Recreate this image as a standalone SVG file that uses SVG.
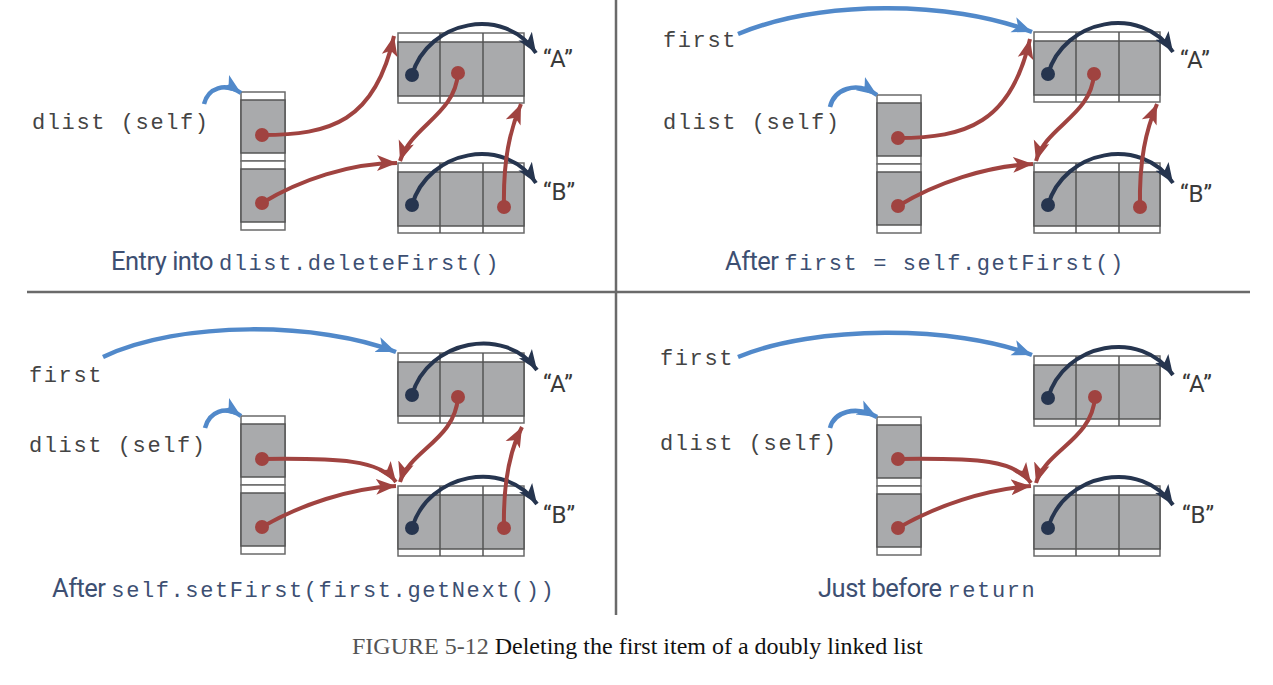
<svg xmlns="http://www.w3.org/2000/svg" xmlns:xlink="http://www.w3.org/1999/xlink" width="1273" height="685" viewBox="0 0 1273 685">
<style>
.mono{font-family:"Liberation Mono","DejaVu Sans Mono",monospace;font-size:22px;letter-spacing:1.6px;fill:#444}
.lbl{font-family:Roboto,"Liberation Sans",sans-serif;font-size:24px;fill:#3a3a3a}
.cap{font-family:Roboto,"Liberation Sans",sans-serif;font-size:25.5px;fill:#3d4f72;letter-spacing:-0.5px}
.cap .m{font-family:"Liberation Mono","DejaVu Sans Mono",monospace;font-size:22px;letter-spacing:1.6px}
.red{fill:none;stroke:#a04340;stroke-width:4;marker-end:url(#ar)}
.navy{fill:none;stroke:#26354f;stroke-width:4;marker-end:url(#an)}
.blue{fill:none;stroke:#5189ca;stroke-width:4.5;marker-end:url(#ab)}
.rdot{fill:#a04340}
.ndot{fill:#26354f}
.div{stroke:#6a6a6a;stroke-width:2.5}
</style>
<defs>
<marker id="ar" markerUnits="userSpaceOnUse" markerWidth="22" markerHeight="22" viewBox="0 0 22 22" refX="20" refY="11" orient="auto"><path d="M0,3 L20,11 L0,19 L5,11 Z" fill="#a04340"/></marker>
<marker id="an" markerUnits="userSpaceOnUse" markerWidth="22" markerHeight="22" viewBox="0 0 22 22" refX="20" refY="11" orient="auto"><path d="M0,3 L20,11 L0,19 L5,11 Z" fill="#26354f"/></marker>
<marker id="ab" markerUnits="userSpaceOnUse" markerWidth="22" markerHeight="22" viewBox="0 0 22 22" refX="20" refY="11" orient="auto"><path d="M0,3 L20,11 L0,19 L5,11 Z" fill="#5189ca"/></marker>
<g id="nodeT">
<rect x="0" y="0" width="126" height="70" fill="#fff" stroke="#6a6a6a" stroke-width="1.5"/>
<rect x="0" y="9" width="126" height="54" fill="#a9aaac" stroke="#555" stroke-width="1.5"/>
<line x1="42" y1="0" x2="42" y2="70" stroke="#555" stroke-width="1.5"/>
<line x1="85" y1="0" x2="85" y2="70" stroke="#555" stroke-width="1.5"/>
</g>
<g id="cellT">
<rect x="0" y="0" width="44" height="69" fill="#fff" stroke="#6a6a6a" stroke-width="1.5"/>
<rect x="0" y="8" width="44" height="53" fill="#a9aaac" stroke="#555" stroke-width="1.5"/>
</g>
</defs>
<rect width="1273" height="685" fill="#fff"/>

<g id="dividers">
<line class="div" x1="616" y1="0" x2="616" y2="615"/>
<line class="div" x1="27" y1="292" x2="1250" y2="292"/>
</g>

<!-- Panel 1 -->
<g id="p1-dlist"><use xlink:href="#cellT" x="241" y="92"/><use xlink:href="#cellT" x="241" y="161"/></g>
<g id="p1-A"><use xlink:href="#nodeT" x="398" y="33"/></g>
<g id="p1-B"><use xlink:href="#nodeT" x="398" y="163"/></g>
<text class="mono" x="32" y="129">dlist (self)</text>
<text class="lbl" x="543" y="67">“A”</text>
<text class="lbl" x="543" y="200">“B”</text>
<text class="cap" x="111" y="270">Entry into <tspan class="m">dlist.deleteFirst()</tspan></text>

<!-- Panel 2 -->
<g id="p2-dlist"><use xlink:href="#cellT" x="877" y="95"/><use xlink:href="#cellT" x="877" y="164"/></g>
<g id="p2-A"><use xlink:href="#nodeT" x="1034" y="32"/></g>
<g id="p2-B"><use xlink:href="#nodeT" x="1034" y="163"/></g>
<text class="mono" x="663" y="47">first</text>
<text class="mono" x="663" y="129">dlist (self)</text>
<text class="lbl" x="1180" y="68">“A”</text>
<text class="lbl" x="1180" y="202">“B”</text>
<text class="cap" x="725" y="270">After <tspan class="m">first = self.getFirst()</tspan></text>

<!-- Panel 3 -->
<g id="p3-dlist"><use xlink:href="#cellT" x="241" y="416"/><use xlink:href="#cellT" x="241" y="485"/></g>
<g id="p3-A"><use xlink:href="#nodeT" x="398" y="353"/></g>
<g id="p3-B"><use xlink:href="#nodeT" x="398" y="486"/></g>
<text class="mono" x="29" y="382">first</text>
<text class="mono" x="29" y="452">dlist (self)</text>
<text class="lbl" x="543" y="392">“A”</text>
<text class="lbl" x="543" y="523">“B”</text>
<text class="cap" x="52" y="597">After <tspan class="m">self.setFirst(first.getNext())</tspan></text>

<!-- Panel 4 -->
<g id="p4-dlist"><use xlink:href="#cellT" x="877" y="417"/><use xlink:href="#cellT" x="877" y="486"/></g>
<g id="p4-A"><use xlink:href="#nodeT" x="1034" y="356"/></g>
<g id="p4-B"><use xlink:href="#nodeT" x="1034" y="486"/></g>
<text class="mono" x="660" y="365">first</text>
<text class="mono" x="660" y="450">dlist (self)</text>
<text class="lbl" x="1182" y="392">“A”</text>
<text class="lbl" x="1182" y="523">“B”</text>
<text class="cap" x="818" y="597">Just before <tspan class="m">return</tspan></text>

<g id="connectors">
<!-- panel 1 -->
<path class="navy" d="M412,75 C428,20 505,5 536,53"/>
<path class="navy" d="M412,205 C428,150 505,135 536,183"/>
<path class="red" d="M262,135 C330,135 375,122 394,36"/>
<path class="red" d="M262,203 C300,180 350,163 397,163"/>
<path class="red" d="M458,73 C455,115 412,125 400,161"/>
<path class="red" d="M504,207 C503,160 510,130 521,104"/>
<path class="blue" d="M204,104 C208,88 225,82 241,93"/>
<!-- panel 2 -->
<path class="navy" d="M1048,74 C1064,19 1141,4 1173,52"/>
<path class="navy" d="M1048,205 C1064,150 1141,135 1173,183"/>
<path class="red" d="M898,138 C966,138 1011,123 1030,39"/>
<path class="red" d="M898,206 C936,183 986,166 1033,164"/>
<path class="red" d="M1094,74 C1091,116 1046,126 1036,161"/>
<path class="red" d="M1140,207 C1139,160 1146,130 1157,104"/>
<path class="blue" d="M830,107 C834,90 855,80 877,95"/>
<path class="blue" d="M738,34 C820,0 950,0 1032,32"/>
<!-- panel 3 -->
<path class="navy" d="M412,395 C428,340 505,325 537,370"/>
<path class="navy" d="M412,528 C428,473 505,458 537,504"/>
<path class="red" d="M262,459 C340,458 380,460 396,482"/>
<path class="red" d="M262,527 C300,505 350,488 396,486"/>
<path class="red" d="M458,397 C455,440 410,450 400,482"/>
<path class="red" d="M504,528 C503,480 510,450 522,427"/>
<path class="blue" d="M205,428 C209,412 225,405 241,416"/>
<path class="blue" d="M103,357 C180,320 320,322 396,352"/>
<!-- panel 4 -->
<path class="navy" d="M1048,398 C1064,343 1141,328 1173,375"/>
<path class="navy" d="M1048,528 C1064,473 1141,458 1173,505"/>
<path class="red" d="M898,459 C980,458 1015,460 1031,483"/>
<path class="red" d="M898,528 C936,506 986,489 1031,486"/>
<path class="red" d="M1095,397 C1092,440 1046,450 1036,483"/>
<path class="blue" d="M830,428 C834,412 855,405 877,417"/>
<path class="blue" d="M738,357 C815,325 955,325 1032,355"/>
</g>

<g id="dots">
<circle class="ndot" cx="412" cy="75" r="7"/><circle class="rdot" cx="458" cy="73" r="7"/>
<circle class="ndot" cx="412" cy="205" r="7"/><circle class="rdot" cx="504" cy="207" r="7"/>
<circle class="rdot" cx="262" cy="135" r="7"/><circle class="rdot" cx="262" cy="203" r="7"/>
<circle class="ndot" cx="1048" cy="74" r="7"/><circle class="rdot" cx="1094" cy="74" r="7"/>
<circle class="ndot" cx="1048" cy="205" r="7"/><circle class="rdot" cx="1140" cy="207" r="7"/>
<circle class="rdot" cx="898" cy="138" r="7"/><circle class="rdot" cx="898" cy="206" r="7"/>
<circle class="ndot" cx="412" cy="395" r="7"/><circle class="rdot" cx="458" cy="397" r="7"/>
<circle class="ndot" cx="412" cy="528" r="7"/><circle class="rdot" cx="504" cy="528" r="7"/>
<circle class="rdot" cx="262" cy="459" r="7"/><circle class="rdot" cx="262" cy="527" r="7"/>
<circle class="ndot" cx="1048" cy="398" r="7"/><circle class="rdot" cx="1095" cy="397" r="7"/>
<circle class="ndot" cx="1048" cy="528" r="7"/>
<circle class="rdot" cx="898" cy="459" r="7"/><circle class="rdot" cx="898" cy="528" r="7"/>
</g>

<text x="352" y="654" font-family="'Liberation Serif','Times New Roman',serif" font-size="24" fill="#111"><tspan fill="#555">FIGURE 5-12</tspan> Deleting the first item of a doubly linked list</text>
</svg>
